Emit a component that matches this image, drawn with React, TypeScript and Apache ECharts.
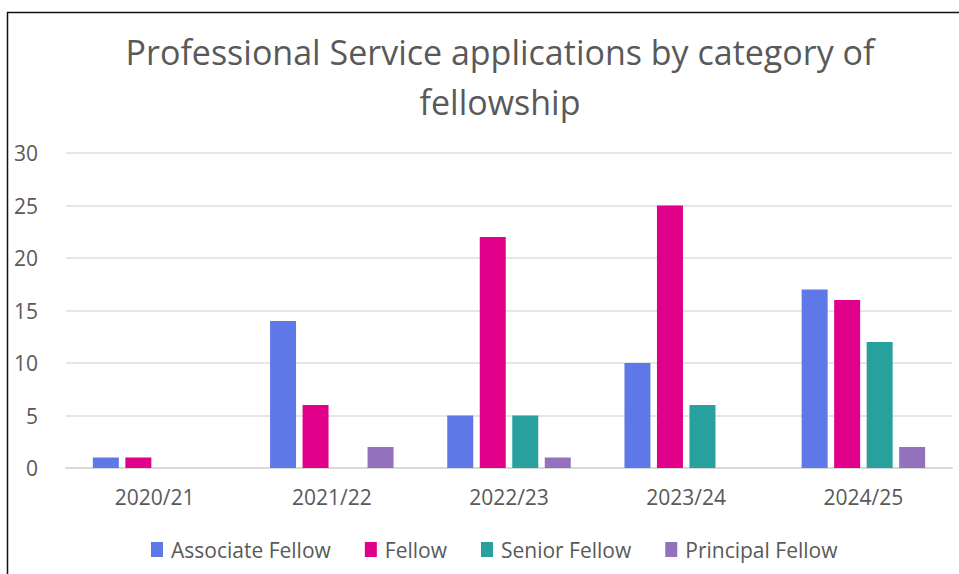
import React, { useEffect, useRef } from "react";
import * as echarts from "echarts";

const categories = ["2020/21", "2021/22", "2022/23", "2023/24", "2024/25"];
const associateFellow = [1, 14, 5, 10, 17];
const fellow = [1, 6, 22, 25, 16];
const seniorFellow = [0, 0, 5, 6, 12];
const principalFellow = [0, 2, 1, 0, 2];
const seriesNames = ["Associate Fellow", "Fellow", "Senior Fellow", "Principal Fellow"];
const seriesColors = ["#5f78e8", "#e0008a", "#28a09e", "#9471bd"];
const titleText = "Professional Service applications by category of\nfellowship";

export default function App() {
  const ref = useRef<HTMLDivElement>(null);
  useEffect(() => {
    if (!ref.current) return;
    const chart = echarts.init(ref.current, null, { renderer: "svg" });
    const font = "'Open Sans', sans-serif";
    const data = [associateFellow, fellow, seniorFellow, principalFellow];
    chart.setOption({
      animation: false,
      backgroundColor: "#ffffff",
      title: {
        text: titleText,
        left: 495,
        textAlign: "center",
        top: 22,
        textStyle: {
          fontFamily: font,
          fontSize: 34,
          fontWeight: "normal",
          color: "#595959",
          lineHeight: 50,
        },
      },
      legend: {
        data: seriesNames,
        top: 534,
        left: 146,
        itemWidth: 12,
        itemHeight: 15,
        itemGap: 34,
        icon: "rect",
        textStyle: { fontFamily: font, fontSize: 21, color: "#595959", padding: [0, 0, 0, 3] },
      },
      grid: { left: 66, right: 7, top: 153, bottom: 106, containLabel: false },
      xAxis: {
        type: "category",
        data: categories,
        axisLine: { lineStyle: { color: "#d9d9d9", width: 2 } },
        axisTick: { show: false },
        axisLabel: { fontFamily: font, fontSize: 21, color: "#595959", margin: 18 },
      },
      yAxis: {
        type: "value",
        min: 0,
        max: 30,
        interval: 5,
        axisLine: { show: false },
        axisTick: { show: false },
        splitLine: { lineStyle: { color: "#dedede", width: 1.5 } },
        axisLabel: { fontFamily: font, fontSize: 21, color: "#595959", margin: 28 },
      },
      graphic: [
        { type: "line", shape: { x1: 7, y1: 12.5, x2: 959, y2: 12.5 }, style: { stroke: "#111", lineWidth: 1.5 } },
        { type: "line", shape: { x1: 7.5, y1: 12, x2: 7.5, y2: 574 }, style: { stroke: "#111", lineWidth: 1.5 } },
      ],
      series: seriesNames.map((name, i) => ({
        name,
        type: "bar",
        data: data[i],
        barWidth: 26,
        barGap: "25%",
        itemStyle: { color: seriesColors[i] },
      })),
    });
    return () => chart.dispose();
  }, []);
  return <div ref={ref} style={{ position: "fixed", left: 0, top: 0, width: 959, height: 574 }} />;
}
